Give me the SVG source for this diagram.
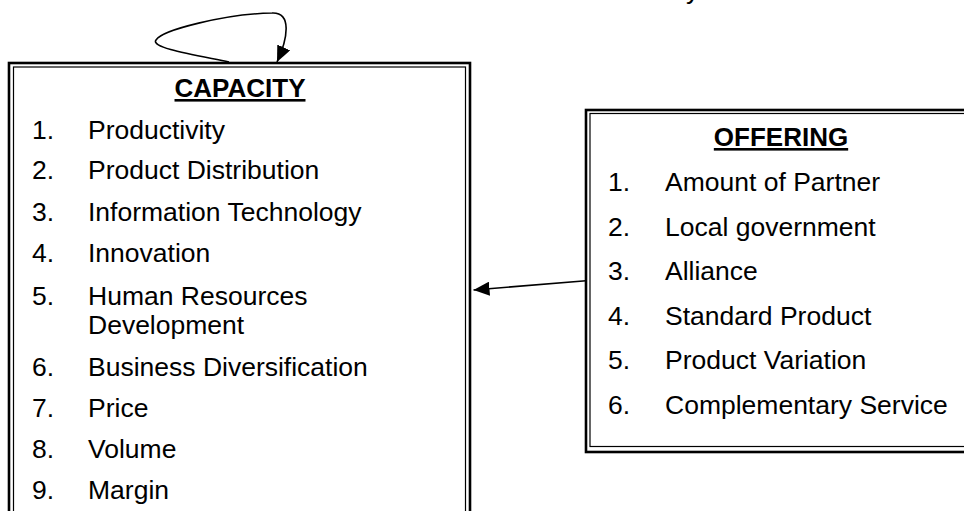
<svg xmlns="http://www.w3.org/2000/svg" width="964" height="511" viewBox="0 0 964 511">
<style>
text{font-family:"Liberation Sans",Arial,sans-serif;font-size:26.5px;fill:#000}
.h{font-size:26px;font-weight:bold;text-decoration:underline;text-anchor:middle}
.outer{fill:none;stroke:#000;stroke-width:2.6}
.inner{fill:none;stroke:#000;stroke-width:1.2}
.conn{fill:none;stroke:#000;stroke-width:1.6}
</style>
<defs>
<marker id="ah" markerUnits="userSpaceOnUse" markerWidth="16" markerHeight="14" refX="16" refY="7" orient="auto">
<path d="M0,0 L16,7 L0,14 z" fill="#000"/>
</marker>
</defs>
<text x="686" y="-1.5">y</text>
<g id="capacity">
<rect class="outer" x="9" y="63" width="461" height="470"/>
<rect class="inner" x="13.5" y="67" width="452" height="470"/>
<text class="h" x="240" y="97">CAPACITY</text>
<text x="32" y="139">1.</text><text x="88" y="139">Productivity</text>
<text x="32" y="179">2.</text><text x="88" y="179">Product Distribution</text>
<text x="32" y="221">3.</text><text x="88" y="221">Information Technology</text>
<text x="32" y="262">4.</text><text x="88" y="262">Innovation</text>
<text x="32" y="305">5.</text><text x="88" y="305">Human Resources</text>
<text x="88" y="334">Development</text>
<text x="32" y="376">6.</text><text x="88" y="376">Business Diversification</text>
<text x="32" y="417">7.</text><text x="88" y="417">Price</text>
<text x="32" y="458">8.</text><text x="88" y="458">Volume</text>
<text x="32" y="499">9.</text><text x="88" y="499">Margin</text>
</g>
<g id="offering">
<rect class="outer" x="586" y="110" width="400" height="342"/>
<rect class="inner" x="590" y="113.5" width="400" height="333"/>
<text class="h" x="781" y="146">OFFERING</text>
<text x="608" y="191">1.</text><text x="665" y="191">Amount of Partner</text>
<text x="608" y="235.5">2.</text><text x="665" y="235.5">Local government</text>
<text x="608" y="280">3.</text><text x="665" y="280">Alliance</text>
<text x="608" y="324.5">4.</text><text x="665" y="324.5">Standard Product</text>
<text x="608" y="369">5.</text><text x="665" y="369">Product Variation</text>
<text x="608" y="413.5">6.</text><text x="665" y="413.5">Complementary Service</text>
</g>
<g id="connectors">
<path class="conn" d="M229,62 C195,55 150,48 156,40 C162,30 225,14 272,13 C292,12 288,38 277,62" marker-end="url(#ah)"/>
<path class="conn" d="M586,280.7 L473.5,290" marker-end="url(#ah)"/>
</g>
</svg>
